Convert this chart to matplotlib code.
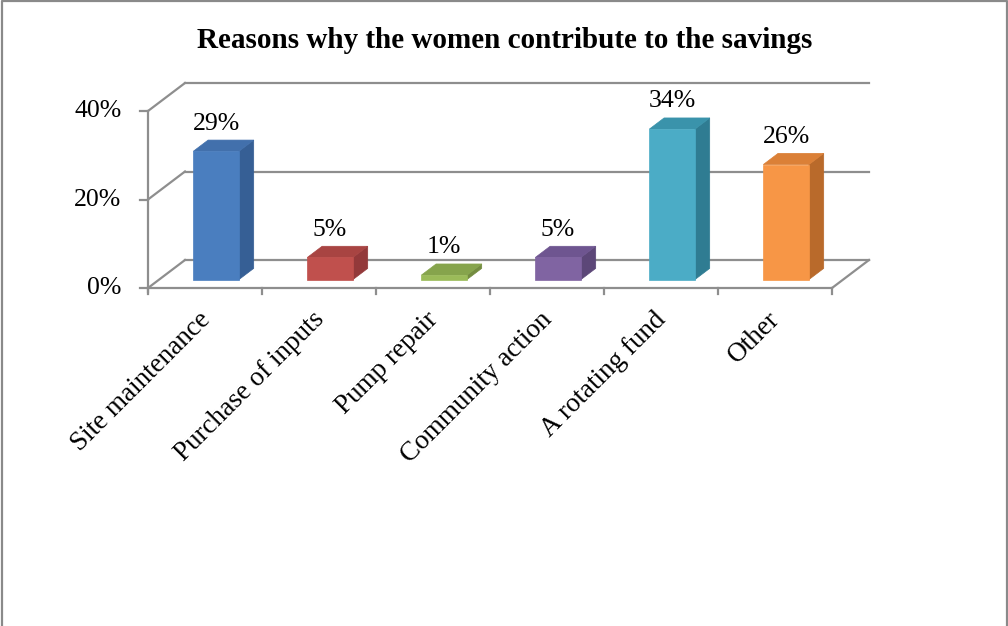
import matplotlib
matplotlib.use("Agg")
import matplotlib.pyplot as plt
from matplotlib.patches import Polygon
from matplotlib.lines import Line2D

# ---- data ----
categories = ["Site maintenance", "Purchase of inputs", "Pump repair",
              "Community action", "A rotating fund", "Other"]
values = [29, 5, 1, 5, 34, 26]
value_labels = ["29%", "5%", "1%", "5%", "34%", "26%"]
y_ticks = [0, 20, 40]
y_tick_labels = ["0%", "20%", "40%"]
title = "Reasons why the women contribute to the savings"

front_colors = ["#4A7EBF", "#C0504D", "#9BBB59", "#8064A2", "#4BACC6", "#F79646"]
side_colors = ["#365F95", "#93393A", "#738C40", "#5C4778", "#2F7C92", "#B96A2B"]
top_colors = ["#4270AC", "#A84442", "#86A44C", "#6E5590", "#3A93AB", "#DB8037"]

# ---- layout ----
W, H = 1008, 626
PX_CAT = 114.0      # pixels per category
PX_PCT = 4.425      # pixels per percent
X0_PX, Y0_PX = 148.0, 288.0   # front-left corner of floor
KX = 37.0 / PX_CAT  # depth offset (x, data units) for z=1
KY = 28.0 / PX_PCT  # depth offset (y, data units) for z=1
GRID = "#8E8E8E"
FONT = "Liberation Serif"

fig = plt.figure(figsize=(W / 100, H / 100), dpi=100)
ax = fig.add_axes([0, 0, 1, 1])
ax.set_xlim(-X0_PX / PX_CAT, (W - X0_PX) / PX_CAT)
ax.set_ylim(-(H - Y0_PX) / PX_PCT, Y0_PX / PX_PCT)
ax.axis("off")


def P(x, v, z):
    return (x + KX * z, v + KY * z)


n = len(categories)
ymax = max(y_ticks)

# back wall gridlines and left wall diagonals
for t, lab in zip(y_ticks, y_tick_labels):
    a = P(0, t, 1); b = P(n, t, 1)
    ax.add_line(Line2D([a[0], b[0]], [a[1], b[1]], color=GRID, lw=1.6, zorder=1))
    c = P(0, t, 0)
    ax.add_line(Line2D([c[0], a[0]], [c[1], a[1]], color=GRID, lw=1.6, zorder=1))
    ax.add_line(Line2D([c[0] - 8 / PX_CAT, c[0]], [c[1], c[1]], color=GRID, lw=1.6, zorder=2))
    ax.annotate(lab, xy=c, xytext=(-19, 0), textcoords="offset points",
                ha="right", va="center", fontsize=18.5, family=FONT, color="black")

# floor: front line and right diagonal
a = P(0, 0, 0); b = P(n, 0, 0); c = P(n, 0, 1)
ax.add_line(Line2D([a[0], b[0]], [a[1], b[1]], color=GRID, lw=1.6, zorder=2))
ax.add_line(Line2D([b[0], c[0]], [b[1], c[1]], color=GRID, lw=1.6, zorder=2))
# vertical value axis
ax.add_line(Line2D([0, 0], [-1.0, ymax], color=GRID, lw=1.6, zorder=2))
# category ticks
for i in range(n + 1):
    ax.add_line(Line2D([i, i], [0, -6 / PX_PCT], color=GRID, lw=1.6, zorder=2))

# bars
bw = 0.4
z0, z1 = 0.3, 0.7
for i, v in enumerate(values):
    xc = i + 0.5
    x0, x1 = xc - bw / 2, xc + bw / 2
    front = [P(x0, 0, z0), P(x1, 0, z0), P(x1, v, z0), P(x0, v, z0)]
    side = [P(x1, 0, z0), P(x1, 0, z1), P(x1, v, z1), P(x1, v, z0)]
    top = [P(x0, v, z0), P(x1, v, z0), P(x1, v, z1), P(x0, v, z1)]
    ax.add_patch(Polygon(side, closed=True, fc=side_colors[i], ec=side_colors[i], lw=0.5, zorder=3))
    ax.add_patch(Polygon(top, closed=True, fc=top_colors[i], ec=top_colors[i], lw=0.5, zorder=3))
    ax.add_patch(Polygon(front, closed=True, fc=front_colors[i], ec=front_colors[i], lw=0.5, zorder=4))
    lx, ly = P(xc, v, z0)[0], P(xc, v, z1)[1]
    ax.annotate(value_labels[i], xy=(lx, ly), xytext=(0, 4), textcoords="offset points",
                ha="center", va="bottom", fontsize=18.5, family=FONT, color="black", zorder=5)
    # category label
    ax.annotate(categories[i], xy=(xc, 0), xytext=(1, -20), textcoords="offset points",
                ha="right", va="center", rotation=45, rotation_mode="anchor",
                fontsize=19.5, family=FONT, color="black")

# title
fig.text(0.501, 1 - 41 / H, title, ha="center", va="center", fontsize=21,
         fontweight="bold", family=FONT, color="black")

# outer border (left, top, right)
fig.add_artist(Line2D([1.5 / W, 1.5 / W, 1 - 1.5 / W, 1 - 1.5 / W],
                      [0, 1 - 1 / H, 1 - 1 / H, 0], transform=fig.transFigure,
                      color="#8A8A8A", lw=1.6))

fig.savefig("out.png", dpi=100, facecolor="white")
